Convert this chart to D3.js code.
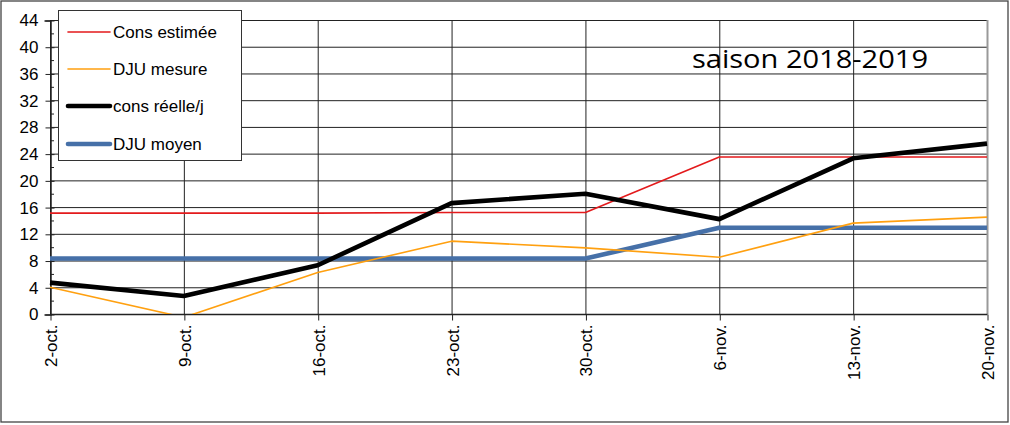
<!DOCTYPE html>
<html><head><meta charset="utf-8">
<script src="https://cdn.jsdelivr.net/npm/d3@7"></script>
<style>body{margin:0;background:#fff}svg{display:block}text{font-family:"Liberation Sans",Arial,sans-serif}</style>
</head><body><svg id="c" width="1010" height="425"></svg>
<script>
const categories = ["2-oct.","9-oct.","16-oct.","23-oct.","30-oct.","6-nov.","13-nov.","20-nov."];
const consEstimee = [15.1,15.1,15.1,15.2,15.2,23.5,23.5,23.5];
const djuMesure = [4.0,-0.5,6.2,10.9,9.9,8.5,13.6,14.5];
const consReelle = [4.7,2.7,7.3,16.6,18.0,14.2,23.3,25.5];
const djuMoyen = [8.3,8.3,8.3,8.3,8.3,12.9,12.9,12.9];
const yTicks = [0,4,8,12,16,20,24,28,32,36,40,44];
const seriesNames = ["Cons estimée","DJU mesure","cons réelle/j","DJU moyen"];
const title = "saison 2018-2019";

const svg = d3.select("#c");
svg.append("rect").attr("x",1).attr("y",1).attr("width",1007).attr("height",421)
  .attr("fill","#fff").attr("stroke","#444").attr("stroke-width",1.3);

const L=50,R=987,T=20,B=314;
const x = d3.scalePoint().domain(categories).range([L,R]);
const y = d3.scaleLinear().domain([0,44]).range([B,T]);

const g = svg.append("g");
g.selectAll(".hg").data(yTicks).join("line")
  .attr("x1",L).attr("x2",R).attr("y1",d=>y(d)+0.5).attr("y2",d=>y(d)+0.5)
  .attr("stroke","#222").attr("stroke-width",1);
g.selectAll(".vg").data(categories).join("line")
  .attr("x1",d=>x(d)+0.5).attr("x2",d=>x(d)+0.5).attr("y1",T).attr("y2",B)
  .attr("stroke",(d,i)=>i===categories.length-1?"#999":"#222").attr("stroke-width",(d,i)=>i===categories.length-1?2:1);

const yAxis = d3.axisLeft(y).tickValues(yTicks).tickSize(6).tickPadding(5);
const ya = svg.append("g").attr("transform",`translate(${L+0.5},0.5)`).call(yAxis);
ya.select(".domain").attr("stroke","#222").attr("stroke-width",1.5);
ya.selectAll(".tick line").attr("stroke","#222").attr("x2",-5).attr("x1",4);
ya.selectAll("text").attr("font-size",17).attr("fill","#000").attr("x",-12);
const minor = d3.range(2,44,4);
svg.append("g").selectAll("line").data(minor).join("line")
  .attr("x1",L).attr("x2",L+4).attr("y1",d=>y(d)+0.5).attr("y2",d=>y(d)+0.5).attr("stroke","#222");

const xAxis = d3.axisBottom(x).tickSize(6).tickPadding(0);
const xa = svg.append("g").attr("transform",`translate(0.5,${B+0.5})`).call(xAxis);
xa.select(".domain").attr("stroke","#222").attr("stroke-width",1.5).attr("d",`M${L},0H${R}`);
xa.selectAll(".tick line").attr("stroke","#222");
xa.selectAll("text").attr("font-size",17).attr("fill","#000")
  .attr("transform","rotate(-90)").attr("text-anchor","end").attr("x",-10).attr("y",0).attr("dy","0.35em").attr("dx",0);

svg.append("clipPath").attr("id","clip").append("rect").attr("x",L-2).attr("y",T-10).attr("width",R-L+10).attr("height",B-T+10);

const line = d3.line().x((d,i)=>x(categories[i])).y(d=>y(d));
const series = [
  {v:consEstimee,c:"#e31a1c",w:1.6},
  {v:djuMesure,c:"#ffa010",w:1.6},
  {v:consReelle,c:"#000",w:4.6},
  {v:djuMoyen,c:"#4670a8",w:4.6}
];
const lg = svg.append("g").attr("clip-path","url(#clip)");
[3,0,1,2].forEach(i=>{
  const s=series[i];
  lg.append("path").datum(s.v).attr("d",line).attr("fill","none")
    .attr("stroke",s.c).attr("stroke-width",s.w).attr("stroke-linejoin","round");
});

const leg = svg.append("g");
leg.append("rect").attr("x",58.5).attr("y",10.5).attr("width",183).attr("height",150)
  .attr("fill","#fff").attr("stroke","#333").attr("stroke-width",1);
const ly=[32,69,106,144];
seriesNames.forEach((n,i)=>{
  leg.append("line").attr("x1",68).attr("x2",110).attr("y1",ly[i]).attr("y2",ly[i])
    .attr("stroke",series[i].c).attr("stroke-width",series[i].w).attr("stroke-linecap","round");
  leg.append("text").attr("x",113).attr("y",ly[i]).attr("dy","0.35em").attr("font-size",17).text(n);
});

svg.append("text").attr("x",692).attr("y",68).attr("font-size",26)
  .style("font-family","'Open Sans',sans-serif").attr("textLength",236).attr("lengthAdjust","spacingAndGlyphs").text(title);
</script></body></html>
